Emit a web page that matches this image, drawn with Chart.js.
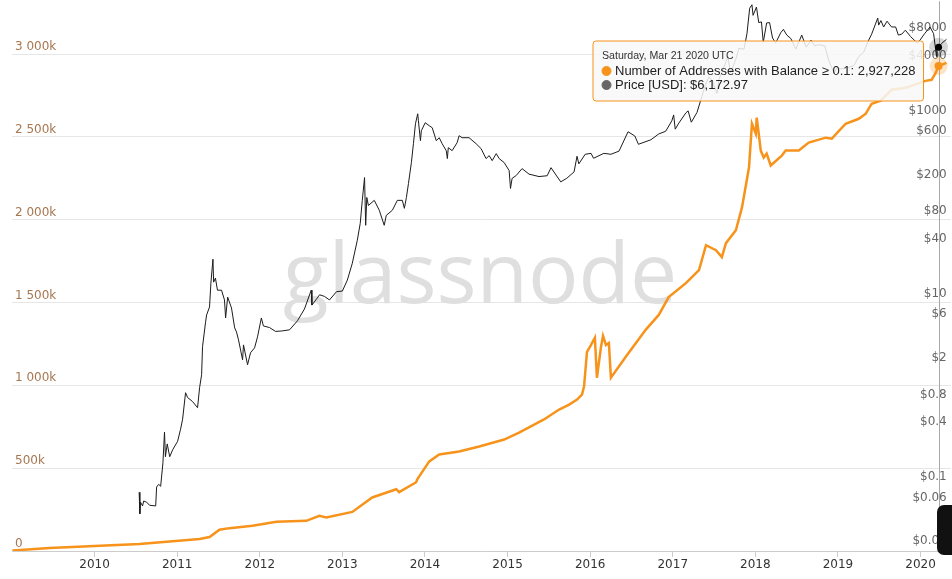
<!DOCTYPE html>
<html>
<head>
<meta charset="utf-8">
<script src="https://cdn.jsdelivr.net/npm/chart.js@4.4.1/dist/chart.umd.min.js"></script>
<style>
  html, body { margin: 0; padding: 0; background: #fff; }
  #wrap { position: relative; width: 952px; height: 579px; overflow: hidden; }
  #badge { position: absolute; left: 937px; top: 505px; width: 24px; height: 50px; background: #111; border-radius: 7px; }
</style>
</head>
<body>
<div id="wrap">
  <canvas id="chart" width="952" height="579"></canvas>
  <div id="badge"></div>
</div>
<script>
// addresses holding >= 0.1 BTC
const addrDates = [
  '2009-01-03','2009-06-17','2010-01-01','2010-07-19','2010-12-25','2011-04-10',
  '2011-05-24','2011-07-07','2011-08-20','2011-11-30','2012-03-15','2012-07-25',
  '2012-09-21','2012-10-22','2013-02-14','2013-05-13','2013-08-27','2013-09-09',
  '2013-11-23','2013-11-28','2014-01-20','2014-03-05','2014-06-01','2014-08-29',
  '2014-12-17','2015-02-21','2015-06-11','2015-08-17','2015-09-30','2015-11-04',
  '2015-11-26','2015-12-05','2015-12-18','2016-01-05','2016-01-22','2016-01-31',
  '2016-02-18','2016-02-27','2016-03-11','2016-03-24','2016-04-02','2016-06-07',
  '2016-09-03','2016-10-31','2016-12-14','2017-02-28','2017-04-27','2017-05-28',
  '2017-07-11','2017-08-06','2017-08-24','2017-10-07','2017-11-03','2017-12-04',
  '2017-12-17','2018-01-03','2018-01-07','2018-01-16','2018-01-25','2018-02-07',
  '2018-02-20','2018-03-10','2018-04-28','2018-05-15','2018-07-12','2018-08-25',
  '2018-11-08','2018-12-05','2019-02-04','2019-04-03','2019-05-04','2019-05-30',
  '2019-07-09','2019-08-26','2019-10-27','2020-01-23','2020-02-19','2020-03-08',
  '2020-03-21','2020-04-25'
];
const addrValues = [
  3000, 18000, 30000, 42000, 60000, 72000,
  84000, 128000, 138000, 152000, 176000, 182000,
  212000, 203000, 236000, 323000, 373000, 355000,
  415000, 433000, 541000, 583000, 601000, 631000,
  673000, 715000, 794000, 854000, 884000, 914000,
  944000, 992000, 1202000, 1244000, 1287000, 1046000,
  1232000, 1299000, 1244000, 1256000, 1046000, 1172000,
  1335000, 1425000, 1533000, 1617000, 1695000, 1846000,
  1816000, 1774000, 1858000, 1936000, 2074000, 2315000,
  2579000, 2519000, 2616000, 2519000, 2417000, 2375000,
  2399000, 2327000, 2387000, 2417000, 2417000, 2465000,
  2495000, 2489000, 2579000, 2609000, 2640000, 2700000,
  2718000, 2784000, 2796000, 2838000, 2844000, 2886000,
  2927228, 2946000
];

// BTC price in USD
const priceDates = [
  '2010-07-17','2010-07-20','2010-07-23','2010-08-01','2010-08-06','2010-08-19',
  '2010-09-01','2010-09-28','2010-10-02','2010-10-11','2010-10-20','2010-10-30',
  '2010-11-06','2010-11-10','2010-11-18','2010-11-29','2010-12-12','2011-01-03',
  '2011-01-16','2011-01-25','2011-02-07','2011-02-16','2011-03-10','2011-04-01',
  '2011-04-10','2011-04-19','2011-04-23','2011-05-06','2011-05-11','2011-05-24',
  '2011-05-30','2011-06-08','2011-06-11','2011-06-19','2011-06-28','2011-07-16',
  '2011-07-29','2011-08-03','2011-08-12','2011-08-29','2011-09-12','2011-09-20',
  '2011-09-29','2011-10-17','2011-10-21','2011-11-08','2011-11-21','2011-12-09',
  '2011-12-22','2012-01-08','2012-01-17','2012-02-13','2012-03-11','2012-04-07',
  '2012-05-12','2012-06-16','2012-07-17','2012-08-16','2012-08-19','2012-09-08',
  '2012-09-22','2012-10-14','2012-11-05','2012-12-06','2013-01-01','2013-01-23',
  '2013-02-14','2013-03-08','2013-03-21','2013-03-30','2013-04-09','2013-04-14',
  '2013-04-19','2013-04-26','2013-05-22','2013-06-13','2013-07-05','2013-07-14',
  '2013-08-10','2013-09-01','2013-09-23','2013-10-02','2013-10-11','2013-10-20',
  '2013-11-02','2013-11-11','2013-11-20','2013-11-30','2013-12-03','2013-12-12',
  '2013-12-16','2014-01-02','2014-01-20','2014-02-02','2014-02-20','2014-03-05',
  '2014-03-18','2014-04-05','2014-04-10','2014-04-14','2014-05-01','2014-05-23',
  '2014-06-01','2014-06-14','2014-07-15','2014-08-15','2014-09-06','2014-09-28',
  '2014-10-12','2014-10-25','2014-11-12','2014-11-25','2014-12-17','2015-01-08',
  '2015-01-14','2015-01-21','2015-02-08','2015-03-06','2015-04-06','2015-05-20',
  '2015-06-25','2015-07-12','2015-08-24','2015-09-20','2015-10-22','2015-11-04',
  '2015-11-12','2015-12-10','2016-01-05','2016-01-16','2016-03-02','2016-04-02',
  '2016-05-08','2016-06-17','2016-07-17','2016-08-02','2016-09-26','2016-10-31',
  '2016-12-01','2016-12-28','2017-01-05','2017-01-12','2017-01-28','2017-02-28',
  '2017-03-10','2017-03-24','2017-04-18','2017-05-10','2017-05-25','2017-06-11',
  '2017-06-23','2017-07-16','2017-07-24','2017-08-24','2017-09-01','2017-09-14',
  '2017-10-07','2017-10-20','2017-11-12','2017-11-25','2017-12-07','2017-12-17',
  '2017-12-22','2018-01-06','2018-01-16','2018-01-28','2018-02-05','2018-02-20',
  '2018-03-05','2018-03-18','2018-04-01','2018-04-23','2018-05-05','2018-05-20',
  '2018-06-07','2018-06-29','2018-07-25','2018-08-14','2018-09-04','2018-09-20',
  '2018-10-08','2018-11-04','2018-11-21','2018-12-15','2018-12-27','2019-01-14',
  '2019-02-09','2019-03-12','2019-04-03','2019-04-25','2019-05-17','2019-05-30',
  '2019-06-26','2019-06-30','2019-07-10','2019-07-22','2019-08-06','2019-08-26',
  '2019-09-13','2019-09-25','2019-10-10','2019-10-26','2019-11-18','2019-12-17',
  '2019-12-28','2020-01-19','2020-02-12','2020-02-28','2020-03-12','2020-03-13',
  '2020-03-21','2020-04-03','2020-04-25'
];
const priceValues = [
  0.086, 0.05, 0.067, 0.061, 0.069, 0.067,
  0.062, 0.061, 0.098, 0.105, 0.1, 0.18,
  0.39, 0.21, 0.29, 0.21, 0.25, 0.31,
  0.42, 0.54, 1.05, 0.93, 0.84, 0.72,
  1.19, 1.65, 3.33, 6.07, 7.41, 9.05,
  16.5, 30.1, 16.9, 18.7, 13.8, 13.8,
  10.8, 6.87, 11.6, 8.83, 5.35, 4.84,
  3.96, 2.4, 3.49, 2.12, 2.86, 3.24,
  4.27, 6.87, 5.62, 5.4, 4.9, 4.95,
  5.1, 6.4, 8.6, 13.8, 9.5, 11,
  12.3, 11.8, 10.8, 13.3, 13.5, 17.8,
  27.2, 48.4, 74.1, 132, 234, 70.5,
  142, 116, 132, 103, 70.5, 90.5,
  103, 132, 132, 108, 142, 201,
  341, 548, 905, 1162, 975, 591,
  759, 928, 861, 819, 591, 637,
  548, 460, 377, 496, 460, 562,
  670, 637, 637, 548, 484, 377,
  406, 358, 427, 377, 341, 279,
  178, 229, 246, 293, 255, 240,
  245, 300, 210, 230, 270, 400,
  330, 420, 430, 380, 430, 420,
  455, 740, 665, 540, 605, 700,
  750, 975, 1130, 790, 920, 1190,
  1250, 940, 1200, 1800, 2400, 2950,
  2700, 1950, 2750, 4300, 4900, 3250,
  4600, 6000, 5900, 8700, 16500, 18000,
  13800, 17000, 11500, 11700, 7000, 11400,
  11500, 7800, 6900, 8900, 9700, 8400,
  7700, 5900, 8400, 6200, 7400, 6400,
  6600, 6400, 4500, 3200, 3700, 3600,
  3650, 3900, 4900, 5500, 7400, 8600,
  12900, 10800, 12100, 10300, 11900, 10300,
  10300, 8400, 8600, 9500, 8100, 6900,
  7300, 8700, 10300, 8700, 4900, 5600,
  6172.97, 6800, 7550
];

const yearTicks = [2010, 2011, 2012, 2013, 2014, 2015, 2016, 2017, 2018, 2019, 2020];
const addrTicks = [0, 500000, 1000000, 1500000, 2000000, 2500000, 3000000];
const priceTicks = [0.02, 0.06, 0.1, 0.4, 0.8, 2, 6, 10, 40, 80, 200, 600, 1000, 4000, 8000];
const hoverDate = '2020-03-21';

const ORANGE = '#f7931a';
const DAYS = ['Sunday', 'Monday', 'Tuesday', 'Wednesday', 'Thursday', 'Friday', 'Saturday'];
const MONTHS = ['Jan', 'Feb', 'Mar', 'Apr', 'May', 'Jun', 'Jul', 'Aug', 'Sep', 'Oct', 'Nov', 'Dec'];

// date string -> fractional year for the linear x scale
function toYear(s) {
  const [y, m, d] = s.split('-').map(Number);
  const a = Date.UTC(y, 0, 1), b = Date.UTC(y + 1, 0, 1);
  return y + (Date.UTC(y, m - 1, d) - a) / (b - a);
}

function longDate(s) {
  const dt = new Date(s + 'T00:00:00Z');
  return `${DAYS[dt.getUTCDay()]}, ${MONTHS[dt.getUTCMonth()]} ${dt.getUTCDate()} ${dt.getUTCFullYear()} UTC`;
}

function kLabel(v) {
  if (v === 0) return '0';
  const k = v / 1000;
  return k >= 1000 ? Math.floor(k / 1000) + ' ' + String(k % 1000).padStart(3, '0') + 'k' : k + 'k';
}

const addrData = addrDates.map((d, i) => ({ x: toYear(d), y: addrValues[i], d }));
const priceData = priceDates.map((d, i) => ({ x: toYear(d), y: priceValues[i], d }));

const tickFont = { family: 'DejaVu Sans', size: 12 };
const noPad = s => { s.paddingTop = 0; s.paddingBottom = 0; s.paddingLeft = 0; s.paddingRight = 0; };
// y axes draw their labels inside the plot, so they take no room
const flat = s => { noPad(s); s.width = 0; };

// watermark + hover crosshair, both under the lines
const backdrop = {
  id: 'backdrop',
  beforeDatasetsDraw(c) {
    const ctx = c.ctx, a = c.chartArea;
    ctx.save();
    ctx.font = '84px "Open Sans"';
    ctx.fillStyle = '#dfdfdf';
    ctx.textAlign = 'center';
    ctx.textBaseline = 'alphabetic';
    ctx.fillText('glassnode', 480, 303);
    const x = Math.round(c.scales.x.getPixelForValue(toYear(hoverDate))) + 0.5;
    ctx.strokeStyle = '#a8a8a8';
    ctx.lineWidth = 1;
    ctx.beginPath();
    ctx.moveTo(x, a.top);
    ctx.lineTo(x, a.bottom);
    ctx.stroke();
    ctx.restore();
  }
};

Chart.Tooltip.positioners.pinned = function () {
  return { x: 596, y: 41 };
};

const chart = new Chart(document.getElementById('chart'), {
  type: 'line',
  data: {
    datasets: [
      {
        label: 'Number of Addresses with Balance ≥ 0.1',
        data: addrData,
        yAxisID: 'yAddr',
        borderColor: ORANGE,
        borderWidth: 2.5,
        pointRadius: 0,
        pointHoverRadius: 4,
        pointHoverBackgroundColor: ORANGE,
        pointHoverBorderColor: 'rgba(247,147,26,0.25)',
        pointHoverBorderWidth: 10,
        tension: 0
      },
      {
        label: 'Price [USD]',
        data: priceData,
        yAxisID: 'yPrice',
        borderColor: '#1c1c1c',
        borderWidth: 1,
        pointRadius: 0,
        pointHoverRadius: 3.5,
        pointHoverBackgroundColor: '#000',
        pointHoverBorderColor: 'rgba(0,0,0,0.16)',
        pointHoverBorderWidth: 12,
        tension: 0
      }
    ]
  },
  options: {
    responsive: false,
    animation: false,
    events: [],
    layout: { padding: { left: 12, right: 0, top: 0, bottom: 5.6 } },
    scales: {
      x: {
        type: 'linear',
        min: 2009,
        max: 2020.366,
        afterBuildTicks: s => { s.ticks = yearTicks.map(v => ({ value: v })); },
        afterFit: noPad,
        grid: { drawOnChartArea: false, drawTicks: true, tickLength: 6, color: '#cccccc' },
        border: { color: '#cccccc' },
        ticks: { color: '#333', font: tickFont, padding: 1, maxRotation: 0, autoSkip: false, callback: v => String(v) }
      },
      yAddr: {
        type: 'linear',
        position: 'left',
        min: 0,
        max: 3318500,
        afterBuildTicks: s => { s.ticks = addrTicks.map(v => ({ value: v })); },
        afterFit: flat,
        grid: { color: '#e6e6e6', drawTicks: false },
        border: { display: false },
        ticks: { mirror: true, padding: 3, labelOffset: -7, color: '#a67650', font: tickFont, callback: kLabel }
      },
      yPrice: {
        type: 'logarithmic',
        position: 'right',
        min: 0.01965,
        max: 19660,
        afterBuildTicks: s => { s.ticks = priceTicks.map(v => ({ value: v })); },
        afterFit: flat,
        grid: { display: false, drawTicks: false },
        border: { display: false },
        ticks: { mirror: true, padding: -4, labelOffset: -9, color: '#666', font: tickFont, callback: v => '$' + v }
      }
    },
    plugins: {
      legend: { display: false },
      tooltip: {
        position: 'pinned',
        xAlign: 'left',
        yAlign: 'top',
        caretSize: 0,
        caretPadding: 0,
        cornerRadius: 3,
        backgroundColor: 'rgba(248,248,248,0.86)',
        borderColor: ORANGE,
        borderWidth: 1,
        titleColor: '#333',
        titleFont: { family: 'Liberation Sans', size: 10.6, weight: 'normal', lineHeight: 14 / 10.6 },
        titleMarginBottom: 1,
        bodyColor: '#222',
        bodyFont: { family: 'Liberation Sans', size: 13, lineHeight: 14 / 13 },
        bodySpacing: 0,
        padding: { top: 8, bottom: 9, left: 9, right: 8 },
        displayColors: true,
        usePointStyle: true,
        boxWidth: 9,
        boxHeight: 9,
        boxPadding: 2,
        multiKeyBackground: 'rgba(0,0,0,0)',
        callbacks: {
          title: items => longDate(items[0].raw.d),
          label: item => item.datasetIndex === 0
            ? `${item.dataset.label}: ${item.raw.y.toLocaleString('en-US')}`
            : `${item.dataset.label}: $${item.raw.y.toLocaleString('en-US', { minimumFractionDigits: 2, maximumFractionDigits: 2 })}`,
          labelColor: item => {
            const c = item.datasetIndex === 0 ? ORANGE : '#666';
            return { borderColor: c, backgroundColor: c };
          },
          labelPointStyle: () => ({ pointStyle: 'circle', rotation: 0 })
        }
      }
    }
  },
  plugins: [backdrop]
});

const active = [
  { datasetIndex: 0, index: addrDates.indexOf(hoverDate) },
  { datasetIndex: 1, index: priceDates.indexOf(hoverDate) }
];
chart.setActiveElements(active);
chart.tooltip.setActiveElements(active, { x: 0, y: 0 });
chart.update();
</script>
</body>
</html>
